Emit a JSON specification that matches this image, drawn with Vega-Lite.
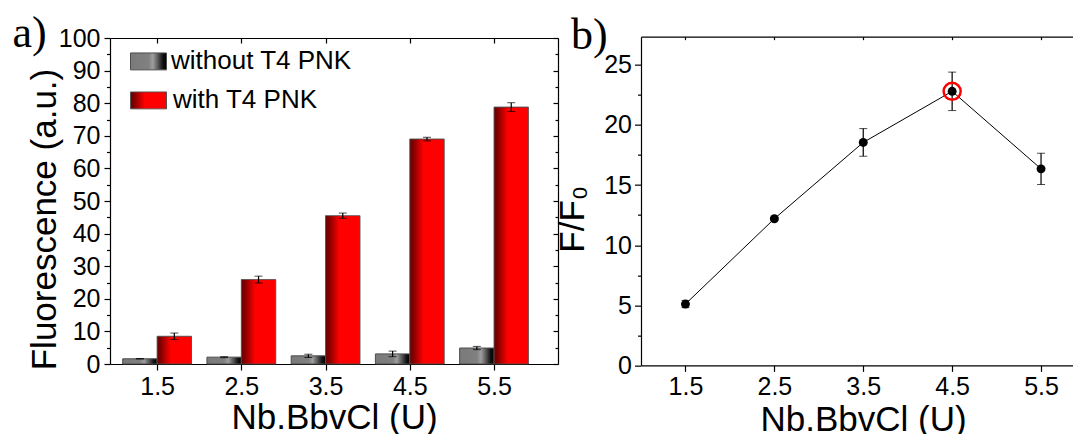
{
  "$schema": "https://vega.github.io/schema/vega-lite/v6.json",
  "background": "white",
  "padding": {"left": 12, "top": 10.5, "right": 0, "bottom": 0},
  "spacing": 83,
  "bounds": "flush",
  "center": true,
  "config": {
    "view": {"stroke": null},
    "font": "Liberation Sans",
    "axis": {
      "grid": false,
      "labelFont": "Liberation Sans",
      "labelFontSize": 25,
      "labelColor": "black",
      "titleFont": "Liberation Sans",
      "titleFontSize": 35,
      "titleFontWeight": "normal",
      "titleColor": "black",
      "domainColor": "black",
      "domainWidth": 1.2,
      "tickColor": "black",
      "tickWidth": 1.2
    }
  },
  "hconcat": [
    {
      "width": 448,
      "height": 326,
      "data": {"values": [
        {"u": 1.5, "group": "without T4 PNK", "f": 1.6, "err": 0.1},
        {"u": 2.5, "group": "without T4 PNK", "f": 2.1, "err": 0.15},
        {"u": 3.5, "group": "without T4 PNK", "f": 2.5, "err": 0.5},
        {"u": 4.5, "group": "without T4 PNK", "f": 3.1, "err": 0.85},
        {"u": 5.5, "group": "without T4 PNK", "f": 4.9, "err": 0.5},
        {"u": 1.5, "group": "with T4 PNK", "f": 8.5, "err": 1.0},
        {"u": 2.5, "group": "with T4 PNK", "f": 25.9, "err": 1.05},
        {"u": 3.5, "group": "with T4 PNK", "f": 45.5, "err": 0.8},
        {"u": 4.5, "group": "with T4 PNK", "f": 69.0, "err": 0.55},
        {"u": 5.5, "group": "with T4 PNK", "f": 78.8, "err": 1.35}
      ]},
      "layer": [
        {
          "transform": [{"filter": "datum.group === 'without T4 PNK'"}],
          "mark": {"type": "bar", "size": 34.4, "xOffset": -17.2, "strokeWidth": 1,
            "fill": {"gradient": "linear", "x1": 0, "y1": 0, "x2": 1, "y2": 0, "stops": [
              {"offset": 0, "color": "#7a7a7a"}, {"offset": 0.5, "color": "#808080"}, {"offset": 0.62, "color": "#9e9e9e"},
              {"offset": 0.78, "color": "#505050"}, {"offset": 0.9, "color": "#111111"}, {"offset": 1, "color": "#000000"}]}},
          "encoding": {
            "x": {"field": "u", "type": "quantitative", "scale": {"domain": [1, 6.2], "nice": false, "zero": false},
              "axis": {"orient": "bottom", "values": [1.5, 2.5, 3.5, 4.5, 5.5], "format": ".1f", "title": "Nb.BbvCl (U)", "tickSize": 6,
                "labelBaseline": "alphabetic", "labelPadding": 24, "titleBaseline": "alphabetic", "titleY": 64}},
            "y": {"field": "f", "type": "quantitative", "scale": {"domain": [0, 100], "nice": false},
              "axis": {"orient": "left", "values": [0, 5, 10, 15, 20, 25, 30, 35, 40, 45, 50, 55, 60, 65, 70, 75, 80, 85, 90, 95, 100],
                "labelExpr": "datum.value % 10 === 0 ? datum.label : ''",
                "tickSize": {"condition": {"test": "datum.value % 10 === 0", "value": 6}, "value": 3.5},
                "labelPadding": 4, "title": "Fluorescence (a.u.)", "titleBaseline": "alphabetic", "titleX": -55, "titleY": 181}},
            "stroke": {"datum": "without T4 PNK", "type": "nominal",
              "scale": {"domain": ["without T4 PNK"], "range": ["#4d4d4d"]},
              "legend": {"title": null, "orient": "none", "legendX": 20, "legendY": 6.4, "padding": 0,
                "symbolType": "M-1,-0.47H1V0.47H-1Z", "symbolSize": 1296, "symbolStrokeWidth": 1,
                "labelFont": "Liberation Sans", "labelFontSize": 26, "labelColor": "black", "labelOffset": 4, "labelLimit": 400,
                "encode": {"symbols": {
                  "fill": {"value": {"gradient": "linear", "x1": 0, "y1": 0, "x2": 1, "y2": 0, "stops": [
                    {"offset": 0, "color": "#7a7a7a"}, {"offset": 0.5, "color": "#808080"}, {"offset": 0.62, "color": "#9e9e9e"},
                    {"offset": 0.78, "color": "#505050"}, {"offset": 0.9, "color": "#111111"}, {"offset": 1, "color": "#000000"}]}},
                  "stroke": {"value": "#222222"},
                  "opacity": {"value": 1}
                }}}}
          }
        },
        {
          "transform": [{"filter": "datum.group === 'with T4 PNK'"}],
          "mark": {"type": "bar", "size": 34.4, "xOffset": 17.2, "strokeWidth": 1, "stroke": "#4d4d4d",
            "fill": {"gradient": "linear", "x1": 0, "y1": 0, "x2": 1, "y2": 0, "stops": [
              {"offset": 0, "color": "#6b0000"}, {"offset": 0.1, "color": "#800000"}, {"offset": 0.4, "color": "#ff0000"}, {"offset": 1, "color": "#ff0000"}]}},
          "encoding": {
            "x": {"field": "u", "type": "quantitative",
              "axis": {"orient": "top", "values": [1.5, 2.5, 3.5, 4.5, 5.5], "labels": false, "tickSize": -5,
                "title": "a)", "titleFont": "Liberation Serif", "titleFontSize": 44, "titleFontWeight": "normal", "titleAngle": 0,
                "titleAlign": "left", "titleBaseline": "alphabetic", "titleX": -98, "titleY": 8}},
            "y": {"field": "f", "type": "quantitative",
              "axis": {"orient": "right", "values": [0, 5, 10, 15, 20, 25, 30, 35, 40, 45, 50, 55, 60, 65, 70, 75, 80, 85, 90, 95, 100],
                "labels": false, "title": null,
                "tickSize": {"condition": {"test": "datum.value % 10 === 0", "value": -5}, "value": -3}}},
            "strokeDash": {"datum": "with T4 PNK", "type": "nominal",
              "scale": {"domain": ["with T4 PNK"], "range": [[1, 0]]},
              "legend": {"title": null, "orient": "none", "legendX": 20, "legendY": 45.4, "padding": 0,
                "symbolType": "M-1,-0.47H1V0.47H-1Z", "symbolSize": 1296, "symbolStrokeWidth": 1,
                "labelFont": "Liberation Sans", "labelFontSize": 26, "labelColor": "black", "labelOffset": 6, "labelLimit": 400,
                "encode": {"symbols": {
                  "fill": {"value": {"gradient": "linear", "x1": 0, "y1": 0, "x2": 1, "y2": 0, "stops": [
                    {"offset": 0, "color": "#6b0000"}, {"offset": 0.1, "color": "#800000"}, {"offset": 0.4, "color": "#ff0000"}, {"offset": 1, "color": "#ff0000"}]}},
                  "stroke": {"value": "#222222"},
                  "opacity": {"value": 1}
                }}}}
          }
        },
        {
          "transform": [{"filter": "datum.group === 'without T4 PNK'"}],
          "mark": {"type": "errorbar", "ticks": {"size": 8, "color": "black", "xOffset": -17.2}, "rule": {"color": "black", "strokeWidth": 1.2, "xOffset": -17.2}},
          "encoding": {
            "x": {"field": "u", "type": "quantitative", "axis": null},
            "y": {"field": "f", "type": "quantitative", "axis": null},
            "yError": {"field": "err"}
          }
        },
        {
          "transform": [{"filter": "datum.group === 'with T4 PNK'"}],
          "mark": {"type": "errorbar", "ticks": {"size": 8, "color": "black", "xOffset": 17.2}, "rule": {"color": "black", "strokeWidth": 1.2, "xOffset": 17.2}},
          "encoding": {
            "x": {"field": "u", "type": "quantitative", "axis": null},
            "y": {"field": "f", "type": "quantitative", "axis": null},
            "yError": {"field": "err"}
          }
        }
      ]
    },
    {
      "width": 435.6,
      "height": 328.7,
      "data": {"values": [
        {"u": 1.5, "ff": 5.1, "err": 0.3},
        {"u": 2.5, "ff": 12.2, "err": 0.1},
        {"u": 3.5, "ff": 18.55, "err": 1.15},
        {"u": 4.5, "ff": 22.8, "err": 1.6},
        {"u": 5.5, "ff": 16.35, "err": 1.3}
      ]},
      "layer": [
        {
          "mark": {"type": "line", "color": "black", "strokeWidth": 1},
          "encoding": {
            "x": {"field": "u", "type": "quantitative", "scale": {"domain": [1, 5.9], "nice": false, "zero": false},
              "axis": {"orient": "bottom", "values": [1.5, 2.5, 3.5, 4.5, 5.5], "format": ".1f", "title": "Nb.BbvCl (U)", "tickSize": 6,
                "labelBaseline": "alphabetic", "labelPadding": 23.5, "titleBaseline": "alphabetic", "titleY": 65, "titleX": 222}},
            "y": {"field": "ff", "type": "quantitative", "scale": {"domain": [0, 27.35], "nice": false},
              "axis": {"orient": "left", "values": [0, 2.5, 5, 7.5, 10, 12.5, 15, 17.5, 20, 22.5, 25],
                "labelExpr": "datum.value % 5 === 0 ? datum.label : ''",
                "tickSize": {"condition": {"test": "datum.value % 5 === 0", "value": 6.5}, "value": 3.5},
                "labelPadding": 3, "title": "F/F₀", "titleBaseline": "alphabetic", "titleX": -58, "titleY": 182}}
          }
        },
        {
          "mark": {"type": "errorbar", "ticks": {"size": 8, "color": "black"}, "rule": {"color": "black", "strokeWidth": 1.2}},
          "encoding": {
            "x": {"field": "u", "type": "quantitative", "axis": null},
            "y": {"field": "ff", "type": "quantitative", "axis": null},
            "yError": {"field": "err"}
          }
        },
        {
          "mark": {"type": "circle", "color": "black", "size": 80, "opacity": 1},
          "encoding": {
            "x": {"field": "u", "type": "quantitative",
              "axis": {"orient": "top", "values": [1.5, 2.5, 3.5, 4.5, 5.5], "labels": false, "tickSize": -3,
                "title": "b)", "titleFont": "Liberation Serif", "titleFontSize": 44, "titleFontWeight": "normal", "titleAngle": 0,
                "titleAlign": "left", "titleBaseline": "alphabetic", "titleX": -70.5, "titleY": 12}},
            "y": {"field": "ff", "type": "quantitative",
              "axis": {"orient": "right", "labels": false, "ticks": false, "title": null, "values": [0, 25]}}
          }
        },
        {
          "transform": [{"filter": "datum.u === 4.5"}],
          "mark": {"type": "point", "shape": "circle", "size": 290, "filled": false, "stroke": "#ff0000", "strokeWidth": 2.5, "opacity": 1},
          "encoding": {
            "x": {"field": "u", "type": "quantitative", "axis": null},
            "y": {"field": "ff", "type": "quantitative", "axis": null}
          }
        }
      ]
    }
  ]
}
